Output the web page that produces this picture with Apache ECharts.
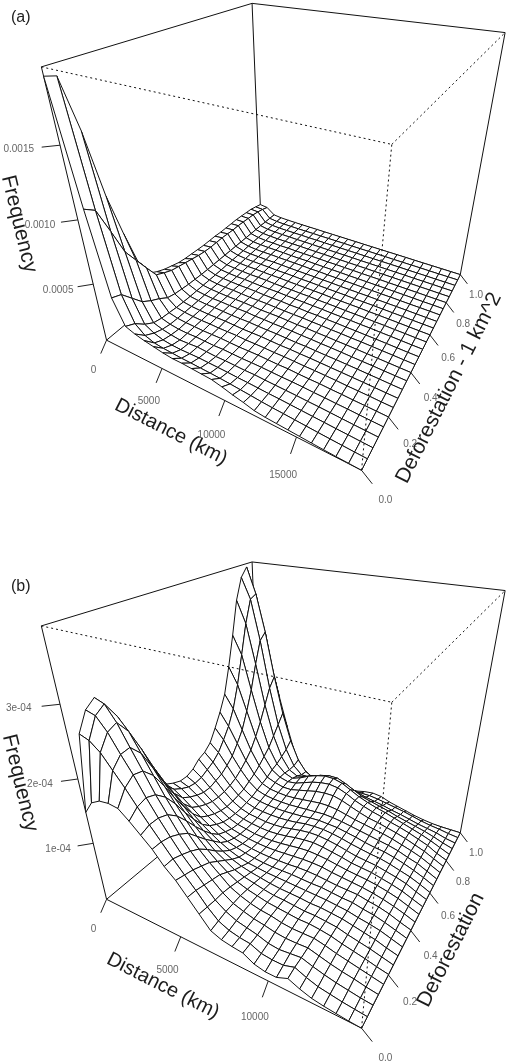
<!DOCTYPE html>
<html><head><meta charset="utf-8">
<style>html,body{margin:0;padding:0;background:#fff}#c{width:510px;height:1061px}</style>
<script src="https://cdn.jsdelivr.net/npm/echarts@6/dist/echarts.min.js"></script>
</head><body><div id="c"></div>
<script>
// Surface heights, unit 1e-6, rows = deforestation index, columns = distance index
const surfaceA = [
[1900,1100,450,240,210,190,175,160,150,150,145,140,135,115,90,70,45,35,30,25,20,15,10,6,3,0],
[1880,1050,420,200,130,100,90,85,80,78,75,72,68,62,55,48,40,34,30,25,20,15,11,7,3,0],
[1530,850,330,130,85,60,50,48,50,52,50,48,46,42,40,36,32,30,26,22,18,14,10,7,3,0],
[1050,640,240,80,55,40,30,35,42,38,34,36,34,32,34,30,28,26,24,20,18,14,10,6,3,0],
[720,520,190,60,38,28,26,30,28,26,30,28,26,28,28,26,24,24,22,18,16,12,10,6,3,0],
[430,400,150,50,32,26,24,22,24,26,24,22,24,26,24,22,24,20,18,18,14,12,8,6,3,0],
[270,285,100,40,28,22,20,22,20,22,24,20,22,22,20,22,20,18,18,16,14,10,8,6,2,0],
[230,250,80,34,24,20,18,20,22,20,18,20,22,20,18,20,18,18,16,14,12,10,8,5,2,0],
[200,220,70,30,22,18,20,18,16,18,20,18,18,20,18,16,18,16,14,14,12,10,7,5,2,0],
[180,205,60,28,20,16,18,16,18,20,16,18,16,18,18,16,16,14,14,12,10,8,7,4,2,0],
[160,190,55,26,18,16,14,16,18,16,14,16,18,16,14,16,14,14,12,12,10,8,6,4,2,0],
[150,175,50,24,16,14,16,14,12,14,16,14,14,14,16,14,14,12,12,10,10,8,6,4,2,0],
[145,160,46,22,16,14,12,14,14,12,12,14,12,14,12,14,12,12,10,10,8,7,5,3,1,0],
[140,150,44,20,14,12,14,12,10,12,14,12,12,12,12,12,10,10,10,8,8,6,5,3,1,0],
[135,145,42,20,14,12,10,12,12,10,10,12,10,12,10,10,10,8,8,8,6,6,4,3,1,0],
[135,145,40,18,12,10,12,10,10,12,10,10,10,10,10,8,8,8,8,6,6,5,4,2,1,0],
[135,145,38,18,12,10,10,10,8,10,10,8,10,8,8,8,8,6,6,6,5,4,3,2,1,0],
[130,140,36,16,10,10,8,10,10,8,8,8,8,8,8,6,6,6,6,5,4,4,3,2,1,0],
[130,135,34,16,10,8,10,8,8,8,8,6,8,6,6,6,6,5,5,4,4,3,2,2,1,0],
[130,135,32,14,10,8,8,8,6,6,8,6,6,6,6,5,5,5,4,4,3,3,2,1,1,0],
[130,130,30,14,8,8,6,8,6,6,6,6,5,6,5,5,4,4,4,3,3,2,2,1,0,0],
[125,125,28,12,8,6,6,6,6,5,5,5,5,4,4,4,4,3,3,3,2,2,1,1,0,0],
[120,120,26,12,8,6,6,5,5,5,4,4,4,4,4,3,3,3,2,2,2,1,1,1,0,0],
[115,110,22,10,6,5,5,5,4,4,4,3,3,3,3,3,2,2,2,2,1,1,1,0,0,0],
[100,95,20,10,6,5,4,4,4,3,3,3,3,2,2,2,2,2,1,1,1,1,0,0,0,0],
[85,75,16,8,5,4,3,3,3,2,2,2,2,2,1,1,1,1,1,1,0,0,0,0,0,0]
];
const surfaceB = [
[150,170,178,180,178,165,150,135,115,100,80,60,40,33,30,28,18,14,14,22,14,8,5,3,1,0],
[255,250,238,218,198,176,155,135,115,96,78,58,42,34,30,28,20,18,18,24,16,10,7,4,2,0],
[280,276,258,232,208,180,155,132,110,92,74,56,44,36,32,28,22,20,22,24,18,13,9,6,3,1],
[290,285,264,234,205,175,150,125,104,86,70,55,44,38,33,30,26,24,24,25,20,15,11,8,4,1],
[260,262,245,218,190,162,138,116,96,80,66,52,44,38,34,32,28,26,26,26,22,17,13,9,5,1],
[225,226,212,188,165,142,120,100,84,70,58,48,42,38,34,32,30,28,28,26,23,18,14,10,5,1],
[190,190,176,156,136,118,100,84,70,60,50,44,40,36,33,32,30,28,28,26,24,19,15,11,6,1],
[155,155,144,128,112,96,82,70,58,50,44,40,37,34,32,31,30,28,28,26,24,20,16,12,6,1],
[125,124,115,102,90,77,66,56,48,42,38,36,34,33,32,31,30,29,28,26,24,20,17,13,7,1],
[112,108,98,86,74,64,54,47,42,38,35,33,32,32,32,31,30,30,28,26,25,21,18,13,7,1],
[105,100,90,78,66,56,48,42,38,35,33,32,32,32,33,33,32,30,28,27,26,22,19,14,7,1],
[100,94,84,72,60,50,43,39,36,34,33,33,34,35,36,36,35,32,30,28,26,23,19,14,8,1],
[100,92,80,68,56,47,41,38,35,34,34,35,37,39,40,39,37,34,31,29,27,24,20,15,8,1],
[105,94,80,67,54,46,41,38,36,35,36,38,41,43,44,42,39,36,32,30,28,24,20,15,8,1],
[115,100,84,68,55,46,41,39,37,37,38,41,44,46,46,44,41,37,33,31,29,25,21,16,8,1],
[120,106,88,71,57,48,43,41,40,40,41,43,46,47,47,45,42,38,35,32,30,26,21,16,9,1],
[130,116,96,76,60,50,46,44,43,43,44,45,47,48,47,46,43,40,36,33,31,27,22,16,9,1],
[150,132,106,84,66,54,49,47,46,46,47,48,49,50,49,47,44,41,38,35,32,28,22,17,9,1],
[172,150,122,94,72,58,52,50,49,50,52,54,56,56,54,50,46,43,40,37,33,28,23,17,9,1],
[198,175,140,106,80,62,56,52,52,56,60,64,66,66,62,56,50,45,42,38,34,29,23,17,9,1],
[240,212,168,124,90,68,58,54,56,62,68,72,74,72,66,58,52,47,43,38,34,29,23,17,8,1],
[288,258,200,145,100,72,58,52,58,66,72,76,76,72,64,56,50,45,41,36,31,26,21,15,8,1],
[340,305,240,170,115,78,56,48,52,58,64,68,68,62,54,46,42,38,34,29,25,21,17,12,6,1],
[372,340,275,195,130,85,56,42,42,46,50,52,50,46,40,36,33,30,26,23,19,15,12,9,4,1],
[385,345,285,210,145,95,60,40,32,30,30,30,30,30,30,30,28,25,22,19,15,11,8,6,3,1],
[350,290,225,165,110,60,34,24,19,20,22,22,20,20,24,26,24,18,14,10,6,3,1,0,0,0]
];
const distanceTicksA = [0, 5000, 10000, 15000];
const distanceTicksB = [0, 5000, 10000];
const deforestationTicks = [0, 0.2, 0.4, 0.6, 0.8, 1];
const frequencyTicksA = [0.0005, 0.001, 0.0015];
const frequencyLabelsA = ['0.0005', '0.0010', '0.0015'];
const frequencyTicksB = [1e-4, 2e-4, 3e-4];
const frequencyLabelsB = ['1e-04', '2e-04', '3e-04'];
const distanceMaxA = 19000, distanceMaxB = 14500;
const frequencyMaxA = 0.00195, frequencyMaxB = 0.00039;

// Camera calibration: box corners on the page, keyed by [x,y,z] in the unit cube
const cameraA = [
 [0,0,0,106,340],[1,0,0,362,470],[1,1,0,460,275],[0,1,0,261,212],
 [0,0,1,41.5,67],[1,0,1,392,145],[1,1,1,505,32],[0,1,1,252,3.5]];
const cameraB = [
 [0,0,0,106,369],[1,0,0,362,498],[1,1,0,460,303],[0,1,0,261,241],
 [0,0,1,41.5,96],[1,0,1,392,173],[1,1,1,505,60],[0,1,1,252,32]];

function solve(A, b) {
  const n = b.length, M = A.map((r, i) => r.concat([b[i]]));
  for (let c = 0; c < n; c++) {
    let p = c;
    for (let r = c + 1; r < n; r++) if (Math.abs(M[r][c]) > Math.abs(M[p][c])) p = r;
    [M[c], M[p]] = [M[p], M[c]];
    for (let r = 0; r < n; r++) if (r !== c) {
      const f = M[r][c] / M[c][c];
      for (let k = c; k <= n; k++) M[r][k] -= f * M[c][k];
    }
  }
  return M.map((r, i) => r[n] / r[i]);
}
function fitCamera(pts) {
  const rows = [], rhs = [];
  pts.forEach(([X, Y, Z, u, v]) => {
    rows.push([X, Y, Z, 1, 0, 0, 0, 0, -u * X, -u * Y, -u * Z]); rhs.push(u);
    rows.push([0, 0, 0, 0, X, Y, Z, 1, -v * X, -v * Y, -v * Z]); rhs.push(v);
  });
  const N = Array.from({length: 11}, (_, i) => Array.from({length: 11}, (_, j) =>
    rows.reduce((s, r) => s + r[i] * r[j], 0)));
  const t = Array.from({length: 11}, (_, i) => rows.reduce((s, r, k) => s + r[i] * rhs[k], 0));
  const m = solve(N, t);
  return (X, Y, Z) => {
    const w = m[8] * X + m[9] * Y + m[10] * Z + 1;
    return [(m[0] * X + m[1] * Y + m[2] * Z + m[3]) / w, (m[4] * X + m[5] * Y + m[6] * Z + m[7]) / w];
  };
}

const FONT = '"Liberation Sans", Arial, sans-serif';
const TICK = 0.035, LABEL = 0.078;

function panel(gi, p) {
  const cam = fitCamera(p.camera);
  const pt = (api, x, y, z) => api.coord(cam(x, y, z));
  const n = p.surface.length - 1, m = p.surface[0].length - 1;
  const cells = [];
  for (let i = 0; i < m; i++) for (let j = n - 1; j >= 0; j--) {
    const s = p.surface;
    cells.push([i / m, (i + 1) / m, j / n, (j + 1) / n,
      s[j][i] * 1e-6 / p.zMax, s[j][i + 1] * 1e-6 / p.zMax, s[j + 1][i] * 1e-6 / p.zMax, s[j + 1][i + 1] * 1e-6 / p.zMax]);
  }
  const seg = (dash, w) => (params, api) => {
    const a = pt(api, api.value(0), api.value(1), api.value(2));
    const b = pt(api, api.value(3), api.value(4), api.value(5));
    return {type: 'line', silent: true, shape: {x1: a[0], y1: a[1], x2: b[0], y2: b[1]},
      style: {stroke: '#111', lineWidth: w, lineDash: dash}};
  };
  const base = {type: 'custom', xAxisIndex: gi, yAxisIndex: gi, clip: false, animation: false, silent: true, progressive: 0};
  const back = [[0,0,0,1,0,0],[0,0,0,0,1,0],[0,1,0,1,1,0],[1,0,0,1,1,0],[0,0,0,0,0,1],[0,1,0,0,1,1],[1,1,0,1,1,1],[0,0,1,0,1,1],[0,1,1,1,1,1]];
  const front = [[0,0,1,1,0,1],[1,0,0,1,0,1],[1,0,1,1,1,1]];
  const ticks = [], labels = [];
  p.xTicks.forEach(v => { const x = v / p.xMax;
    ticks.push([x, 0, 0, x, -TICK, -TICK]);
    labels.push([x, -LABEL, -LABEL, String(v)]); });
  deforestationTicks.forEach(v => {
    ticks.push([1, v, 0, 1 + TICK, v, -TICK]);
    labels.push([1 + LABEL, v, -LABEL, v.toFixed(1)]); });
  p.zTicks.forEach((v, k) => { const z = v / p.zMax;
    ticks.push([0, 0, z, -TICK, -TICK, z]);
    labels.push([-LABEL, -LABEL, z, p.zLabels[k]]); });
  const titleItem = (params, api) => {
    const t = p.titles[params.dataIndex];
    const a = cam(...t.from), b = cam(...t.to);
    let ang = Math.atan2(b[1] - a[1], b[0] - a[0]);
    const c = api.coord([t.x, t.y]);
    return {type: 'text', silent: true, x: c[0], y: c[1], rotation: -ang,
      style: {text: t.text, fontSize: t.size, fontFamily: FONT, fill: '#1c1c1c', align: 'center', verticalAlign: 'middle'}};
  };
  return [
    Object.assign({}, base, {name: p.id + ' back box', data: back, renderItem: seg(null, 1), z: 1}),
    Object.assign({}, base, {name: p.id + ' surface', data: cells, z: 2, renderItem: (params, api) => {
      const X0 = api.value(0), X1 = api.value(1), Y0 = api.value(2), Y1 = api.value(3);
      return {type: 'polygon', silent: true, shape: {points: [
        pt(api, X0, Y0, api.value(4)), pt(api, X1, Y0, api.value(5)),
        pt(api, X1, Y1, api.value(7)), pt(api, X0, Y1, api.value(6))]},
        style: {fill: '#fff', stroke: '#111', lineWidth: 1, lineJoin: 'round'}};
    }}),
    Object.assign({}, base, {name: p.id + ' front box', data: front, renderItem: seg([2, 3], 1), z: 3}),
    Object.assign({}, base, {name: p.id + ' ticks', data: ticks.map(t => t.concat()), z: 3, renderItem: (params, api) => {
      const a = pt(api, api.value(0), api.value(1), api.value(2));
      const b = pt(api, api.value(3), api.value(4), api.value(5));
      return {type: 'line', silent: true, shape: {x1: a[0], y1: a[1], x2: b[0], y2: b[1]}, style: {stroke: '#222', lineWidth: 1}};
    }}),
    Object.assign({}, base, {name: p.id + ' tick labels', data: labels.map(l => l.slice(0, 3)), z: 3, renderItem: (params, api) => {
      const c = pt(api, api.value(0), api.value(1), api.value(2));
      return {type: 'text', silent: true, x: c[0], y: c[1],
        style: {text: labels[params.dataIndex][3], fontSize: 10, fontFamily: FONT, fill: '#666', align: 'center', verticalAlign: 'middle'}};
    }}),
    Object.assign({}, base, {name: p.id + ' titles', data: p.titles.map(t => [t.x, t.y]), z: 3, renderItem: titleItem})
  ];
}

const panels = [
 {id: 'a', camera: cameraA, surface: surfaceA, xMax: distanceMaxA, zMax: frequencyMaxA, xTicks: distanceTicksA,
  zTicks: frequencyTicksA, zLabels: frequencyLabelsA,
  titles: [
   {text: 'Distance (km)', size: 20, x: 171, y: 432, from: [0,0,0], to: [1,0,0]},
   {text: 'Frequency', size: 21, x: 19, y: 224, from: [0,0,1], to: [0,0,0]},
   {text: 'Deforestation - 1 km^2', size: 21, x: 449, y: 388, from: [1,0,0], to: [1,1,0]}]},
 {id: 'b', camera: cameraB, surface: surfaceB, xMax: distanceMaxB, zMax: frequencyMaxB, xTicks: distanceTicksB,
  zTicks: frequencyTicksB, zLabels: frequencyLabelsB,
  titles: [
   {text: 'Distance (km)', size: 20, x: 163, y: 456, from: [0,0,0], to: [1,0,0]},
   {text: 'Frequency', size: 21, x: 20, y: 253, from: [0,0,1], to: [0,0,0]},
   {text: 'Deforestation', size: 21, x: 451, y: 420, from: [1,0,0], to: [1,1,0]}]}
];

const chart = echarts.init(document.getElementById('c'), null, {renderer: 'canvas'});
const axisOff = {type: 'value', show: false, scale: false};
chart.setOption({
  backgroundColor: '#fff',
  animation: false,
  title: [
    {text: '(a)', left: 6, top: 5, textStyle: {fontFamily: FONT, fontSize: 16, fontWeight: 'normal', color: '#222'}},
    {text: '(b)', left: 6, top: 574, textStyle: {fontFamily: FONT, fontSize: 16, fontWeight: 'normal', color: '#222'}}
  ],
  grid: [
    {left: 0, top: 0, width: 510, height: 530},
    {left: 0, top: 530, width: 510, height: 531}
  ],
  xAxis: [Object.assign({gridIndex: 0, min: 0, max: 510}, axisOff), Object.assign({gridIndex: 1, min: 0, max: 510}, axisOff)],
  yAxis: [Object.assign({gridIndex: 0, min: 0, max: 530, inverse: true}, axisOff), Object.assign({gridIndex: 1, min: 0, max: 531, inverse: true}, axisOff)],
  series: panel(0, panels[0]).concat(panel(1, panels[1]))
});
</script></body></html>
